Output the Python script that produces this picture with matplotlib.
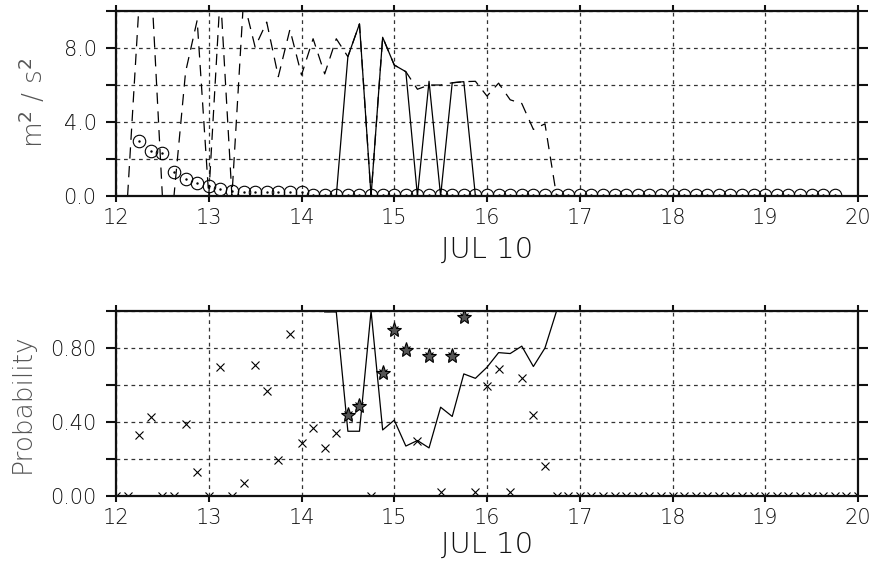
import numpy as np
import matplotlib
matplotlib.use("Agg")
import matplotlib.pyplot as plt
from matplotlib.ticker import FixedLocator, FuncFormatter

plt.rcParams["mathtext.fontset"] = "dejavusans"

# ---------------- data (time in days of JUL 10 axis, 3-hourly) ----------------
t_dash = [12.125, 12.25, 12.375, 12.5, 12.625, 12.75, 12.875, 13.0, 13.125, 13.25,
          13.375, 13.5, 13.625, 13.75, 13.875, 14.0, 14.125, 14.25, 14.375, 14.5,
          14.625, 14.75, 14.875, 15.0, 15.125, 15.25, 15.375, 15.5, 15.625, 15.75,
          15.875, 16.0, 16.125, 16.25, 16.375, 16.5, 16.625, 16.75]
v_dash = [0.0, 10.5, 12.1, 0.0, 0.0, 6.7, 9.5, 0.0, 11.0, 0.0,
          10.6, 8.05, 9.4, 6.45, 9.0, 6.54, 8.5, 6.6, 8.5, 7.53,
          9.3, 0.0, 8.58, 7.08, 6.72, 5.77, 6.0, 6.0, 6.12, 6.18,
          6.2, 5.4, 6.1, 5.2, 5.0, 3.6, 3.9, 0.0]

t_solid_top = [14.25, 14.375, 14.5, 14.625, 14.75, 14.875, 15.0, 15.125, 15.25,
               15.375, 15.5, 15.625, 15.75, 15.875, 16.0]
v_solid_top = [0.0, 0.0, 7.53, 9.3, 0.0, 8.58, 7.08, 6.72, 0.0,
               6.2, 0.0, 6.12, 6.18, 0.0, 0.0]

t_circ = [12.25, 12.375, 12.5, 12.625, 12.75, 12.875, 13.0, 13.125, 13.25, 13.375,
          13.5, 13.625, 13.75, 13.875, 14.0, 14.125, 14.25, 14.375, 14.5, 14.625,
          14.75, 14.875, 15.0, 15.125, 15.25, 15.375, 15.5, 15.625, 15.75, 15.875,
          16.0, 16.125, 16.25, 16.375, 16.5, 16.625, 16.75, 16.875, 17.0, 17.125,
          17.25, 17.375, 17.5, 17.625, 17.75, 17.875, 18.0, 18.125, 18.25, 18.375,
          18.5, 18.625, 18.75, 18.875, 19.0, 19.125, 19.25, 19.375, 19.5, 19.625,
          19.75]
v_circ = [3.0, 2.45, 2.3, 1.3, 0.9, 0.7, 0.55, 0.36, 0.29, 0.24,
          0.24, 0.24, 0.24, 0.23, 0.22, 0.03, 0.03, 0.03, 0.03, 0.03,
          0.03, 0.03, 0.03, 0.03, 0.03, 0.03, 0.03, 0.03, 0.03, 0.03,
          0.03, 0.03, 0.03, 0.03, 0.03, 0.03, 0.03, 0.03, 0.03, 0.03,
          0.03, 0.03, 0.03, 0.03, 0.03, 0.03, 0.03, 0.03, 0.03, 0.03,
          0.03, 0.03, 0.03, 0.03, 0.03, 0.03, 0.03, 0.03, 0.03, 0.03,
          0.03]

t_solid_bot = [14.25, 14.375, 14.5, 14.625, 14.75, 14.875, 15.0, 15.125, 15.25,
               15.375, 15.5, 15.625, 15.75, 15.875, 16.0, 16.125, 16.25, 16.375,
               16.5, 16.625, 16.75, 16.875, 17.0]
v_solid_bot = [0.995, 0.995, 0.35, 0.35, 1.0, 0.357, 0.41, 0.27, 0.30,
               0.26, 0.48, 0.43, 0.66, 0.636, 0.696, 0.775, 0.77, 0.81,
               0.70, 0.80, 1.0, 1.0, 1.0]

t_cross = [12.0, 12.125, 12.25, 12.375, 12.5, 12.625, 12.75, 12.875, 13.0, 13.125,
           13.25, 13.375, 13.5, 13.625, 13.75, 13.875, 14.0, 14.125, 14.25, 14.375,
           14.5, 14.625, 14.75, 14.875, 15.0, 15.125, 15.25, 15.375, 15.5, 15.625,
           15.75, 15.875, 16.0, 16.125, 16.25, 16.375, 16.5, 16.625, 16.75, 16.875,
           17.0, 17.125, 17.25, 17.375, 17.5, 17.625, 17.75, 17.875, 18.0, 18.125,
           18.25, 18.375, 18.5, 18.625, 18.75, 18.875, 19.0, 19.125, 19.25, 19.375,
           19.5, 19.625, 19.75, 19.875, 20.0]
v_cross = [0.0, 0.0, 0.33, 0.425, 0.0, 0.0, 0.39, 0.13, 0.0, 0.70,
           0.0, 0.07, 0.71, 0.57, 0.195, 0.875, 0.285, 0.37, 0.258, 0.34,
           0.438, 0.488, 0.0, 0.667, 0.90, 0.79, 0.30, 0.758, 0.02, 0.758,
           0.97, 0.02, 0.595, 0.685, 0.02, 0.636, 0.44, 0.16, 0.0, 0.0,
           0.0, 0.0, 0.0, 0.0, 0.0, 0.0, 0.0, 0.0, 0.0, 0.0,
           0.0, 0.0, 0.0, 0.0, 0.0, 0.0, 0.0, 0.0, 0.0, 0.0,
           0.0, 0.0, 0.0, 0.0, 0.0]

t_star = [14.5, 14.625, 14.875, 15.0, 15.125, 15.375, 15.625, 15.75]
v_star = [0.438, 0.488, 0.667, 0.90, 0.79, 0.758, 0.758, 0.97]

x_ticks = [12, 13, 14, 15, 16, 17, 18, 19, 20]
y1_ticks = [0, 2, 4, 6, 8, 10]
y1_labeled = {0: "0.0", 4: "4.0", 8: "8.0"}
y2_ticks = [0.0, 0.2, 0.4, 0.6, 0.8, 1.0]
y2_labeled = {0.0: "0.00", 0.4: "0.40", 0.8: "0.80"}
xlabel_text = "JUL 10"

# ---------------- figure ----------------
W, H = 872, 566
fig = plt.figure(figsize=(W / 100, H / 100), dpi=100)
ax1 = fig.add_axes([116 / W, 1 - 196 / H, 742 / W, 185 / H])
ax2 = fig.add_axes([116 / W, 1 - 496 / H, 742 / W, 185 / H])

tick_fs = 15
FONT = ["DejaVu Sans"]
WEIGHT = "light"


def style(ax, yticks, ylabels, ylim):
    ax.set_xlim(12, 20)
    ax.set_ylim(*ylim)
    ax.xaxis.set_major_locator(FixedLocator(x_ticks))
    ax.yaxis.set_major_locator(FixedLocator(yticks))
    ax.xaxis.set_major_formatter(FuncFormatter(lambda v, p: "%d" % round(v)))

    def yf(v, p):
        for k, s in ylabels.items():
            if abs(v - k) < 1e-6:
                return s
        return ""
    ax.yaxis.set_major_formatter(FuncFormatter(yf))
    ax.grid(True, linestyle=(0, (3, 3)), color="#333333", lw=0.9)
    ax.set_axisbelow(True)
    ax.tick_params(axis="x", which="both", direction="out", length=4, width=1.5,
                   top=True, bottom=True, labelsize=tick_fs, pad=5, colors="#111111")
    ax.tick_params(axis="y", which="both", direction="out", length=7, width=1.5,
                   left=True, right=True, labelsize=tick_fs, pad=7, colors="#111111")
    for lab in ax.get_xticklabels() + ax.get_yticklabels():
        lab.set_family(FONT)
        lab.set_weight(WEIGHT)
    for sp in ax.spines.values():
        sp.set_linewidth(1.6)
        sp.set_color("#111111")


style(ax1, y1_ticks, y1_labeled, (0, 10))
style(ax2, y2_ticks, y2_labeled, (0, 1))

# top panel
ax1.plot(t_dash, v_dash, color="black", lw=0.9, linestyle=(0, (9, 6)))
ax1.plot(t_solid_top, v_solid_top, color="black", lw=0.9)
ax1.plot(t_circ, v_circ, linestyle="none", marker="o", markersize=9,
         markerfacecolor="none", markeredgecolor="black", markeredgewidth=0.8)
ax1.plot(t_circ, v_circ, linestyle="none", marker=".", markersize=1.5,
         color="black")

# bottom panel
ax2.plot(t_solid_bot, v_solid_bot, color="black", lw=0.9)
ax2.plot(t_cross, v_cross, linestyle="none", marker="x", markersize=6,
         markeredgewidth=0.8, color="black")
ax2.plot(t_star, v_star, linestyle="none", marker="*", markersize=11,
         markerfacecolor="#555555", markeredgecolor="black", markeredgewidth=0.8)

# labels
fig.text(487 / W, 1 - 250 / H, xlabel_text, ha="center", va="center",
         fontsize=21, color="#111111", family=FONT, weight=WEIGHT)
fig.text(487 / W, 1 - 545 / H, xlabel_text, ha="center", va="center",
         fontsize=21, color="#111111", family=FONT, weight=WEIGHT)
fig.text(33 / W, 1 - 103 / H, r"m$^2$ / s$^2$", ha="center", va="center",
         rotation=90, fontsize=19, color="#555555", family=FONT, weight=WEIGHT)
fig.text(22 / W, 1 - 403 / H, "Probability", ha="center", va="center",
         rotation=90, fontsize=19, color="#555555", family=FONT, weight=WEIGHT)

fig.savefig("out.png", dpi=100)
